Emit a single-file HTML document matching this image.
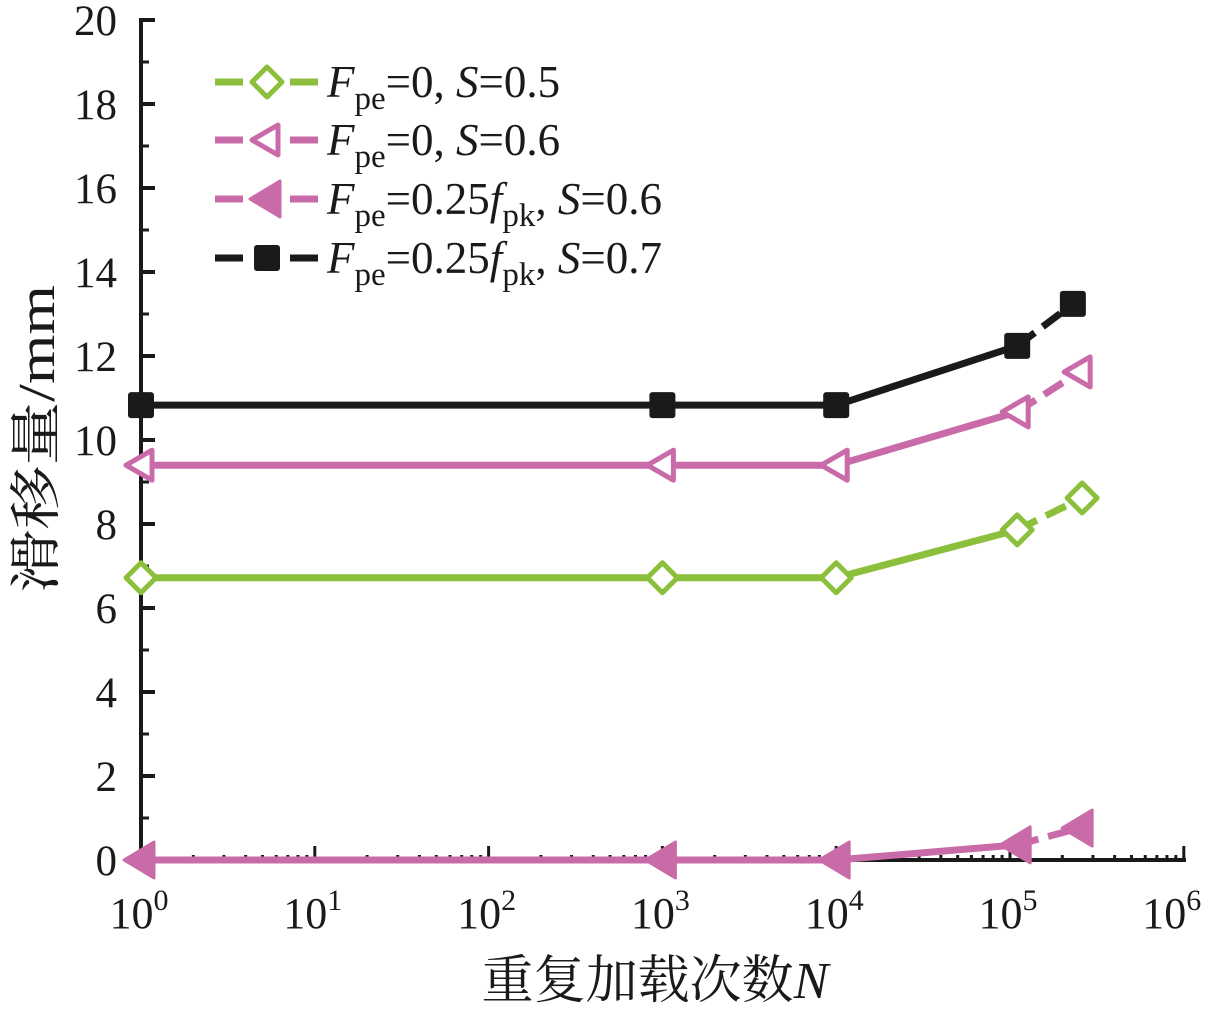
<!DOCTYPE html>
<html><head><meta charset="utf-8"><style>
body{margin:0;background:#fff;}
svg{display:block;font-family:"Liberation Serif","Noto Serif CJK SC",serif;}
</style></head><body>
<svg id="chart" width="1208" height="1010" viewBox="0 0 1208 1010" xmlns="http://www.w3.org/2000/svg"></svg>
<script>
const xCategories=[1,1000,10000,110000,230000];
const xGreen=[1,1000,10000,110000,260000];
const xPink=[1,1000,10000,110000,250000];
const greenValues=[6.72,6.72,6.72,7.86,8.62];
const pinkOpenValues=[9.4,9.4,9.4,10.67,11.62];
const pinkFilledValues=[0,0,0,0.36,0.76];
const blackValues=[10.83,10.83,10.83,12.24,13.24];
const yTicks=[0,2,4,6,8,10,12,14,16,18,20];
const xTickExps=[0,1,2,3,4,5,6];

const NS='http://www.w3.org/2000/svg';
const svg=document.getElementById('chart');
const X0=141,DEC=173.8,Y0=860,YS=42;
const xs=v=>X0+Math.log10(v)*DEC;
const ys=v=>Y0-v*YS;
function mk(t,a,parent){const e=document.createElementNS(NS,t);for(const k in a)e.setAttribute(k,a[k]);(parent||svg).appendChild(e);return e;}

let ax=mk('line',{x1:X0,y1:Y0,x2:1186,y2:Y0,stroke:'#1a1a1a','stroke-width':4});


ax=mk('line',{x1:X0,y1:Y0+2,x2:X0,y2:18,stroke:'#1a1a1a','stroke-width':4});


for(let v=0;v<=20;v++){const maj=v%2===0;
 const t=mk('line',{x1:X0,y1:ys(v),x2:X0+(maj?14:8),y2:ys(v),stroke:'#1a1a1a','stroke-width':maj?4:3});
 
 }
yTicks.forEach(v=>{const t=mk('text',{x:117,y:ys(v)+15,'text-anchor':'end','font-size':43,fill:'#1a1a1a'});t.textContent=v;
 
 });
for(let d=0;d<6;d++){for(let m=2;m<=10;m++){const x=xs(m*Math.pow(10,d));const maj=m===10;
 const t=mk('line',{x1:x,y1:Y0,x2:x,y2:Y0-(maj?14:5),stroke:'#1a1a1a','stroke-width':3});
 
 }}
xTickExps.forEach(e=>{const t=mk('text',{x:xs(Math.pow(10,e))-2-(e===6?10:0),y:928,'text-anchor':'middle','font-size':44,fill:'#1a1a1a'});
 t.innerHTML='10<tspan dy="-18" font-size="30">'+e+'</tspan>';
 
 });
let tt=mk('text',{x:655,y:998,'text-anchor':'middle','font-size':52,fill:'#1a1a1a'});
tt.innerHTML='重复加载次数<tspan font-style="italic">N</tspan>';


tt=mk('text',{x:0,y:0,'text-anchor':'middle','font-size':52,fill:'#1a1a1a',textLength:308,lengthAdjust:'spacingAndGlyphs',transform:'translate(54,439) rotate(-90)'});
tt.textContent='滑移量/mm';



const GREEN='#8cbf3c',PINK='#c96ba9',BLACK='#1a1a1a';
function marker(kind,x,y,col,g){
 if(kind==='diamond')return mk('polygon',{points:`${x},${y-15} ${x+15},${y} ${x},${y+15} ${x-15},${y}`,fill:'#fff',stroke:col,'stroke-width':5,'stroke-linejoin':'round'},g);
 if(kind==='tri-open')return mk('polygon',{points:`${x-15},${y} ${x+11},${y-15} ${x+11},${y+15}`,fill:'#fff',stroke:col,'stroke-width':5,'stroke-linejoin':'round'},g);
 if(kind==='tri')return mk('polygon',{points:`${x-17},${y} ${x+13},${y-18} ${x+13},${y+18}`,fill:col,stroke:col,'stroke-width':3,'stroke-linejoin':'round'},g);
 return mk('rect',{x:x-13,y:y-13,width:26,height:26,rx:3,fill:col},g);
}
function series(name,xv,yv,col,kind){
 const g=mk('g',{});
 
 
 for(let i=0;i<xv.length-1;i++){
  const a={x1:xs(xv[i]),y1:ys(yv[i]),x2:xs(xv[i+1]),y2:ys(yv[i+1]),stroke:col,'stroke-width':7};
  if(i===xv.length-2)a['stroke-dasharray']='22 10';
  mk('line',a,g);}
 xv.forEach((x,i)=>{const m=marker(kind,xs(x),ys(yv[i]),col,g);
  
  });
}
series('series-fpe0-s05',xGreen,greenValues,GREEN,'diamond');
series('series-fpe0-s06',xPink,pinkOpenValues,PINK,'tri-open');
series('series-fpe025-s06',xPink,pinkFilledValues,PINK,'tri');
series('series-fpe025-s07',xCategories,blackValues,BLACK,'square');

const leg=[['diamond',GREEN,'=0, ','0.5',82],['tri-open',PINK,'=0, ','0.6',140],['tri',PINK,'=0.25','0.6',199],['square',BLACK,'=0.25','0.7',258]];
leg.forEach(([k,c,mid,s,y])=>{
 const g=mk('g',{});
 
 
 mk('line',{x1:215,y1:y,x2:243,y2:y,stroke:c,'stroke-width':7},g);
 mk('line',{x1:290,y1:y,x2:318,y2:y,stroke:c,'stroke-width':7},g);
 marker(k,267,y,c,g);
 const t=mk('text',{x:327,y:y+15,'font-size':45,fill:'#1a1a1a'},g);
 let h='<tspan font-style="italic">F</tspan><tspan dy="12" font-size="33">pe</tspan><tspan dy="-12">'+mid+'</tspan>';
 if(mid==='=0.25')h+='<tspan font-style="italic">f</tspan><tspan dy="12" font-size="33">pk</tspan><tspan dy="-12">, </tspan>';
 h+='<tspan font-style="italic">S</tspan>='+s;
 t.innerHTML=h;
});
</script>
</body></html>
